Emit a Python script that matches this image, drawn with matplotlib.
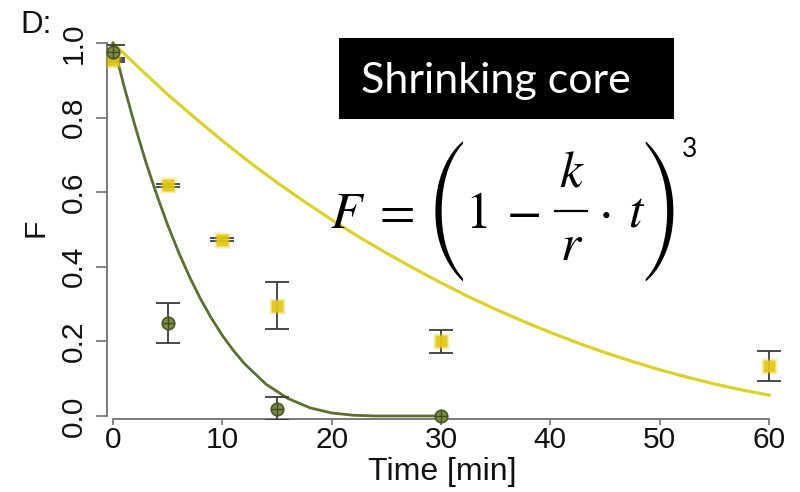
import matplotlib

matplotlib.use("Agg")

import matplotlib.pyplot as plt
from matplotlib.patches import Rectangle
from matplotlib.lines import Line2D

# =====================
# DATA
# =====================

# measured points, mean and error
yellow_t = [0, 5, 10, 15, 30, 60]
yellow_F = [0.955, 0.618, 0.473, 0.296, 0.200, 0.135]
yellow_err = [0.005, 0.005, 0.005, 0.062, 0.030, 0.040]

green_t = [0, 5, 15, 30]
green_F = [0.975, 0.250, 0.020, 0.000]
green_err = [0.020, 0.053, 0.030, 0.0]

# fitted shrinking core curves
yellow_curve_t = [0, 2.5, 5, 7.5, 10, 12.5, 15, 17.5, 20, 22.5, 25, 27.5, 30,
                  32.5, 35, 37.5, 40, 42.5, 45, 47.5, 50, 52.5, 55, 57.5, 60]
yellow_curve_F = [1.000, 0.930, 0.862, 0.799, 0.738, 0.680, 0.626, 0.575,
                  0.526, 0.480, 0.437, 0.396, 0.357, 0.320, 0.286, 0.254,
                  0.224, 0.196, 0.170, 0.146, 0.124, 0.104, 0.086, 0.070,
                  0.056]

green_curve_t = [0, 1, 2, 3, 4, 5, 6, 7, 8, 9, 10, 11, 12, 14, 16, 18, 20,
                 22, 24, 26, 28, 30]
green_curve_F = [1.000, 0.885, 0.779, 0.681, 0.593, 0.512, 0.439, 0.373,
                 0.314, 0.262, 0.216, 0.176, 0.141, 0.085, 0.047, 0.022,
                 0.008, 0.002, 0.000, 0.000, 0.000, 0.000]

x_ticks = [0, 10, 20, 30, 40, 50, 60]
y_ticks = [0.0, 0.2, 0.4, 0.6, 0.8, 1.0]
y_tick_labels = ["0.0", "0.2", "0.4", "0.6", "0.8", "1.0"]

YELLOW_LINE = "#DAD22A"
YELLOW_PT = "#E2C814"
GREEN_LINE = "#5E6E30"
GREEN_PT = "#7D8C45"
BAR = "#3C3C3C"
AXIS = "#707070"
INK = "#111111"

plt.rcParams["font.family"] = ["Liberation Sans", "DejaVu Sans"]

fig = plt.figure(figsize=(8, 4.92), dpi=100)
ax = fig.add_axes([0.13375, 0.1492, 0.848, 0.771])

# =====================
# CURVES
# =====================

ax.plot(yellow_curve_t, yellow_curve_F, color=YELLOW_LINE, lw=2.3, zorder=2)
ax.plot(green_curve_t, green_curve_F, color=GREEN_LINE, lw=2.0, zorder=2)

# =====================
# POINTS
# =====================

ax.errorbar(yellow_t, yellow_F, yerr=yellow_err, fmt="none", ecolor=BAR,
            elinewidth=1.3, capsize=8.5, capthick=1.3, zorder=3)
ax.errorbar(green_t[:3], green_F[:3], yerr=green_err[:3], fmt="none",
            ecolor=BAR, elinewidth=1.3, capsize=8.5, capthick=1.3, zorder=3)

# yellow squares, a bit blurred
ax.plot(yellow_t, yellow_F, "s", ms=12, color=YELLOW_PT, alpha=0.3,
        mec="none", zorder=4, clip_on=False)
ax.plot(yellow_t, yellow_F, "s", ms=8, color=YELLOW_PT, alpha=0.9,
        mec="none", zorder=5, clip_on=False)

# green circles with cross
ax.plot(green_t, green_F, "o", ms=9, mfc=GREEN_PT, mec="#4A5626", mew=1.2,
        zorder=6, clip_on=False)
ax.plot(green_t, green_F, "+", ms=9, color="#3E4A20", mew=1.0, zorder=7,
        clip_on=False)

# =====================
# AXES
# =====================

ax.set_xlim(-0.55, 61.5)
ax.set_ylim(-0.007, 1.01)

for s in ["top", "right"]:
    ax.spines[s].set_visible(False)
ax.spines["left"].set_bounds(0, 1)
ax.spines["bottom"].set_bounds(0, 60)
for s in ["left", "bottom"]:
    ax.spines[s].set_color(AXIS)
    ax.spines[s].set_linewidth(1.3)

ax.set_xticks(x_ticks)
ax.set_yticks(y_ticks)
ax.set_yticklabels(y_tick_labels, rotation=90, ha="center", va="baseline",
                   rotation_mode="anchor")
ax.tick_params(axis="x", direction="out", length=4, width=1.2, color=AXIS,
               labelsize=21.5, pad=1.5, labelcolor=INK)
ax.tick_params(axis="y", direction="out", length=8, width=1.2, color=AXIS,
               labelsize=21.5, pad=10, labelcolor=INK)

fig.text(442 / 800, 1 - 480 / 492, "Time [min]", fontsize=23,
         ha="center", va="baseline", color=INK)
fig.text(43 / 800, 1 - 228 / 492, "F", fontsize=21.5, rotation=90,
         rotation_mode="anchor", ha="center", va="baseline", color=INK)
fig.text(20 / 800, 1 - 33 / 492, "D:", fontsize=22.5, ha="left",
         va="baseline", color=INK)

# =====================
# SLIDE OVERLAY
# =====================

fig.patches.append(Rectangle((339 / 800, 1 - 119 / 492), 335 / 800,
                             81 / 492, transform=fig.transFigure,
                             facecolor="black", edgecolor="none", zorder=10))
fig.text(361 / 800, 1 - 93 / 492, "Shrinking core", fontsize=31,
         family="Lato", color="white", ha="left", va="baseline", zorder=11)


# formula F = (1 - k/r * t)^3, set piece by piece
def px(x, y):
    return x / 800, 1 - y / 492


MATH = 37
base = 228
it = dict(family="STIXGeneral", style="italic", fontsize=MATH, ha="center",
          va="baseline")
up = dict(family="STIXGeneral", fontsize=MATH, ha="center", va="baseline")
paren = dict(family="STIXSizeThreeSym", fontsize=41, ha="center",
             va="center")

fig.text(*px(346, base), "F", **it)
fig.text(*px(397, base), "=", **up)
fig.text(*px(446, 212), "(", **paren)
fig.text(*px(478, base), "1", **up)
fig.text(*px(524, base), "\u2212", **up)
fig.text(*px(571, 187), "k", **it)
fig.add_artist(Line2D([555 / 800, 587 / 800], [1 - 211 / 492] * 2,
                      transform=fig.transFigure, color="black", lw=1.6))
fig.text(*px(571, 260), "r", **it)
fig.text(*px(606, base), "\u22c5", **up)
fig.text(*px(635, base), "t", **it)
fig.text(*px(662, 212), ")", **paren)
fig.text(*px(690, 157), "3", family="Lato", fontsize=19, ha="center",
         va="baseline")

plt.savefig("out.png", dpi=100)
plt.close()
